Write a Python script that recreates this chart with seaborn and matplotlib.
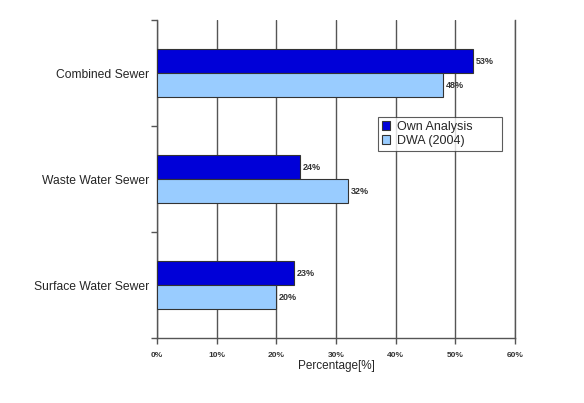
import matplotlib
matplotlib.use("Agg")
import matplotlib.pyplot as plt
import pandas as pd
import seaborn as sns

# data
categories = ["Combined Sewer", "Waste Water Sewer", "Surface Water Sewer"]
own_analysis = [53, 24, 23]
dwa_2004 = [48, 32, 20]
series_names = ["Own Analysis", "DWA (2004)"]
x_ticks = [0, 10, 20, 30, 40, 50, 60]
x_tick_labels = ["0%", "10%", "20%", "30%", "40%", "50%", "60%"]

df = pd.DataFrame({
    "category": categories * 2,
    "series": [series_names[0]] * 3 + [series_names[1]] * 3,
    "value": own_analysis + dwa_2004,
})

sns.set_theme(style="white")
plt.rcParams["font.family"] = ["Liberation Sans", "DejaVu Sans"]

fig = plt.figure(figsize=(5.84, 4.03), dpi=100)
ax = fig.add_axes([0.269, 0.161, 0.613, 0.789])

palette = {series_names[0]: "#0000d8", series_names[1]: "#99ccff"}
sns.barplot(data=df, y="category", x="value", hue="series", order=categories,
            hue_order=series_names, palette=palette, orient="h", width=0.45,
            edgecolor="#333333", linewidth=0.8, saturation=1, ax=ax, zorder=3)

ax.set_xlim(0, 60)
ax.set_ylim(2.5, -0.5)
ax.set_xticks(x_ticks)
ax.set_xticklabels(x_tick_labels, fontsize=6, fontweight="bold", color="#333333")
ax.xaxis.grid(True, color="#555555", linewidth=1)
ax.yaxis.grid(False)
ax.set_yticks([0, 1, 2])
ax.set_yticklabels(categories, fontsize=8.7)
ax.set_yticks([-0.5, 0.5, 1.5, 2.5], minor=True)
ax.tick_params(axis="y", which="major", length=0, pad=6)
ax.tick_params(axis="y", which="minor", length=4, width=1, color="#555555", direction="out", left=True)
ax.tick_params(axis="x", length=4, width=1, color="#555555", direction="out", bottom=True, pad=6)
ax.set_xlabel("Percentage[%]", fontsize=8.5, labelpad=1)
ax.set_ylabel("")

ax.spines["top"].set_visible(False)
for side in ["left", "bottom", "right"]:
    ax.spines[side].set_color("#555555")
    ax.spines[side].set_linewidth(1)

for container in ax.containers:
    ax.bar_label(container, fmt="%d%%", padding=2, fontsize=6.5, fontweight="bold", color="#333333")

leg = ax.legend(loc="upper left", bbox_to_anchor=(0.617, 0.695, 0.346, 0.0), mode="expand",
                fontsize=9, frameon=True, fancybox=False, edgecolor="#333333",
                handlelength=0.7, handleheight=0.7, handletextpad=0.5,
                borderpad=0.3, labelspacing=0.15, borderaxespad=0)
leg.get_frame().set_linewidth(0.8)

fig.savefig("out.png", dpi=100, facecolor="white")
plt.close(fig)
